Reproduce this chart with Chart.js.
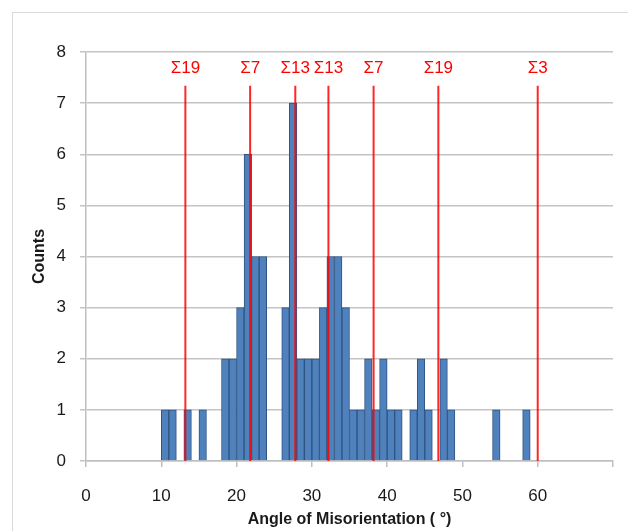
<!DOCTYPE html>
<html>
<head>
<meta charset="utf-8">
<script src="https://cdn.jsdelivr.net/npm/chart.js@4.4.0/dist/chart.umd.min.js"></script>
<style>
  html, body { margin: 0; padding: 0; background: #fff; }
  #wrap { position: relative; width: 628px; height: 531px; }
</style>
</head>
<body>
<div id="wrap"><canvas id="histChart" width="628" height="531"></canvas></div>
<script>
// --- histogram data (bins are [start, start+1) degrees) ---
const binStart = [10, 11, 13, 15, 18, 19, 20, 21, 22, 23, 26, 27, 28, 29, 30, 31, 32, 33, 34, 35, 36, 37, 38, 39, 40, 41, 43, 44, 45, 47, 48, 54, 58];
const binCounts = [1, 1, 1, 1, 2, 2, 3, 6, 4, 4, 3, 7, 2, 2, 2, 3, 4, 4, 3, 1, 1, 2, 1, 2, 1, 1, 1, 2, 1, 2, 1, 1, 1];

// --- CSL boundary markers ---
const sigmaAngles = [13.2, 21.8, 27.8, 32.2, 38.2, 46.8, 60];
const sigmaLabels = ['Σ19', 'Σ7', 'Σ13', 'Σ13', 'Σ7', 'Σ19', 'Σ3'];
const sigmaLineTop = 7.34;
const sigmaLabelY = 7.68;

// --- axes ---
const xTicks = [0, 10, 20, 30, 40, 50, 60];
const yTicks = [0, 1, 2, 3, 4, 5, 6, 7, 8];

const FONT = 'Arial, "Liberation Sans", sans-serif';

const histData = binStart.map((s, i) => ({ x: s + 0.5, y: binCounts[i] }));

const sigmaSets = sigmaAngles.map(a => ({
    type: 'line',
    data: [{ x: a, y: 0 }, { x: a, y: sigmaLineTop }],
    borderColor: 'rgba(255,0,0,0.85)',
    borderWidth: 2,
    pointRadius: 0,
    fill: false,
    order: 0
}));

// sigma labels + outer frame
const sigmaLabelPlugin = {
    id: 'sigmaLabels',
    beforeDraw(chart) {
        const c = chart.ctx;
        c.save();
        c.strokeStyle = '#d9d9d9';
        c.lineWidth = 1;
        c.strokeRect(12.5, 12.5, 700, 700);
        c.restore();
    },
    afterDatasetsDraw(chart) {
        const c = chart.ctx;
        const xs = chart.scales.x, ys = chart.scales.y;
        c.save();
        c.fillStyle = '#ff0000';
        c.font = '17px ' + FONT;
        c.textAlign = 'center';
        c.textBaseline = 'middle';
        sigmaAngles.forEach((a, i) => {
            c.fillText(sigmaLabels[i], xs.getPixelForValue(a), ys.getPixelForValue(sigmaLabelY));
        });
        c.restore();
    }
};

new Chart(document.getElementById('histChart').getContext('2d'), {
    type: 'bar',
    data: {
        datasets: [
            {
                type: 'bar',
                data: histData,
                backgroundColor: '#4f81bd',
                borderColor: '#2f5380',
                borderWidth: 1,
                barPercentage: 1,
                categoryPercentage: 1,
                order: 1
            },
            ...sigmaSets
        ]
    },
    options: {
        responsive: false,
        animation: false,
        layout: { padding: { left: 0, top: 52, right: 15, bottom: 0 } },
        plugins: { legend: { display: false }, tooltip: { enabled: false } },
        scales: {
            x: {
                type: 'linear',
                min: 0,
                max: 70,
                offset: false,
                afterFit: s => { s.height = 70; s.paddingLeft = 0; s.paddingRight = 0; },
                afterBuildTicks: s => { s.ticks = [...xTicks, 70].map(v => ({ value: v })); },
                ticks: {
                    font: { size: 17, family: FONT },
                    color: '#1a1a1a',
                    padding: 19,
                    maxRotation: 0,
                    callback: v => (xTicks.includes(v) ? String(v) : '')
                },
                grid: { offset: false, drawOnChartArea: false, drawTicks: true, tickLength: 6, color: '#bfbfbf', lineWidth: 1.5 },
                border: { color: '#bfbfbf', width: 1.5 },
                title: {
                    display: true,
                    text: 'Angle of Misorientation ( °)',
                    font: { size: 16, weight: 'bold', family: FONT },
                    color: '#1a1a1a',
                    padding: { top: 0, bottom: 2 }
                }
            },
            y: {
                min: 0,
                max: 8,
                afterFit: s => { s.width = 86; s.paddingTop = 0; s.paddingBottom = 0; },
                afterBuildTicks: s => { s.ticks = yTicks.map(v => ({ value: v })); },
                ticks: {
                    font: { size: 17, family: FONT },
                    color: '#1a1a1a',
                    padding: 14
                },
                grid: { color: '#c4c4c4', lineWidth: 1.5, tickLength: 6 },
                border: { color: '#bfbfbf', width: 1.5 },
                title: {
                    display: true,
                    text: 'Counts',
                    font: { size: 16, weight: 'bold', family: FONT },
                    color: '#1a1a1a',
                    padding: { top: 30, bottom: 0 }
                }
            }
        }
    },
    plugins: [sigmaLabelPlugin]
});
</script>
</body>
</html>
